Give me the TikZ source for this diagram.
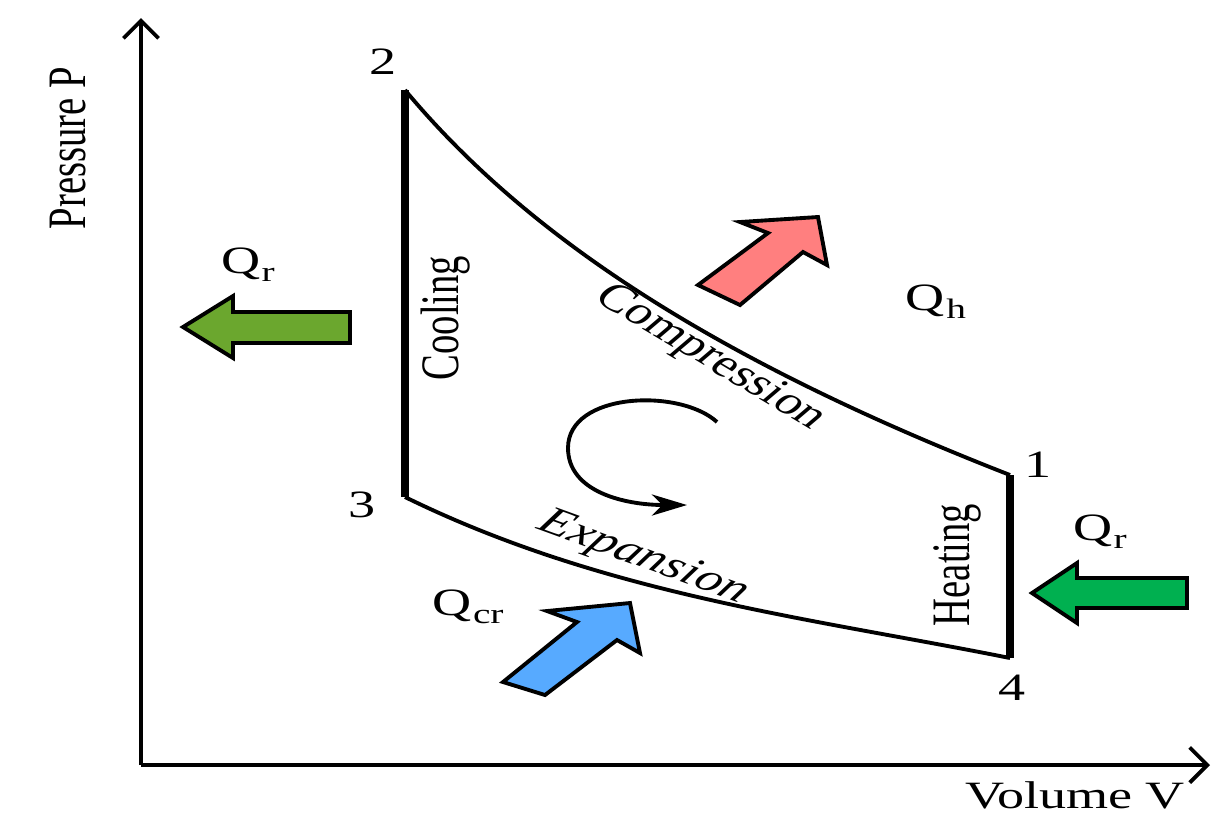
\documentclass[tikz,border=0pt]{standalone}
\usepackage{fontspec}
\usepackage{graphicx}
\setmainfont{Liberation Serif}
\usetikzlibrary{arrows.meta}
\definecolor{rejectgreen}{RGB}{107,167,46}
\definecolor{heatgreen}{RGB}{0,176,80}
\definecolor{hotred}{RGB}{255,127,127}
\definecolor{coldblue}{RGB}{87,170,255}
\newcommand{\wtxt}[2][0]{\scalebox{1.4}[1]{\rotatebox{#1}{#2}}}
\newcommand{\Qs}[1]{Q\kern0.3pt\raisebox{-0.45ex}{\footnotesize #1}}
\begin{document}
\begin{tikzpicture}[x=0.1mm,y=-0.1mm,font=\fontsize{11pt}{13pt}\selectfont]
\tikzstyle{every node}+=[inner sep=0pt]
\tikzstyle{axis}=[line width=1.1pt,-{Straight Barb[length=5pt,width=10pt]}]
\tikzstyle{cycleline}=[line width=1.1pt]
\tikzstyle{isoline}=[line width=2.3pt]
\tikzstyle{heatarrow}=[draw=black,line width=1.1pt,line join=miter]
\useasboundingbox (0,0) rectangle (1212,835);
\coordinate (O) at (141,765);
\coordinate (ytop) at (141,18);
\coordinate (xend) at (1210,765);
\draw [axis] (O) -- (ytop);
\draw [axis] (O) -- (xend);
\node (plab) at (68,148) {\wtxt[90]{Pressure P}};
\node (vlab) at (1075,795) {\wtxt{Volume V}};
\coordinate (p1) at (1010,475);
\coordinate (p2) at (405,90);
\coordinate (p3) at (405,497);
\coordinate (p4) at (1010,658);
\draw [cycleline] (p2) .. controls (525,234) and (710,358) .. (p1);
\draw [cycleline] (p3) .. controls (605,595) and (810,618) .. (p4);
\draw [isoline] (p2) -- (p3);
\draw [isoline] (p1) -- (p4);
\node (n1) at (1038,465) {\wtxt{1}};
\node (n2) at (383,62) {\wtxt{2}};
\node (n3) at (362,505) {\wtxt{3}};
\node (n4) at (1012,688) {\wtxt{4}};
\node (cool) at (446,318) {\wtxt[90]{Cooling}};
\node (heat) at (957,565) {\wtxt[90]{Heating}};
\node (comp) at (710,358) {\wtxt[-40]{Compression}};
\node (expa) at (643,558) {\wtxt[-27]{\itshape Expansion}};
\coordinate (rs) at (717,422);
\coordinate (re) at (687,505);
\draw [cycleline,-{Stealth[length=10pt,width=6pt,inset=3pt]}] (rs) .. controls (680,388) and (568,392) .. (568,448) .. controls (568,492) and (625,505) .. (re);
% heat flows
\filldraw [heatarrow,fill=rejectgreen] (183,327) -- (233,296) -- (233,312) -- (350,312) -- (350,343) -- (233,343) -- (233,358) -- cycle;
\filldraw [heatarrow,fill=heatgreen] (1032,593) -- (1077,563) -- (1077,578) -- (1187,578) -- (1187,608) -- (1077,608) -- (1077,623) -- cycle;
\filldraw [heatarrow,fill=hotred] (698,285) -- (768,233) -- (740,222) -- (818,217) -- (827,265) -- (803,252) -- (740,305) -- cycle;
\filldraw [heatarrow,fill=coldblue] (503,682) -- (577,622) -- (547,611) -- (630,603) -- (640,653) -- (617,640) -- (545,695) -- cycle;
\node (qrl) at (248,265) {\wtxt{\Qs{r}}};
\node (qh) at (936,302) {\wtxt{\Qs{h}}};
\node (qrr) at (1100,532) {\wtxt{\Qs{r}}};
\node (qcr) at (468,607) {\wtxt{\Qs{cr}}};
\end{tikzpicture}
\end{document}
